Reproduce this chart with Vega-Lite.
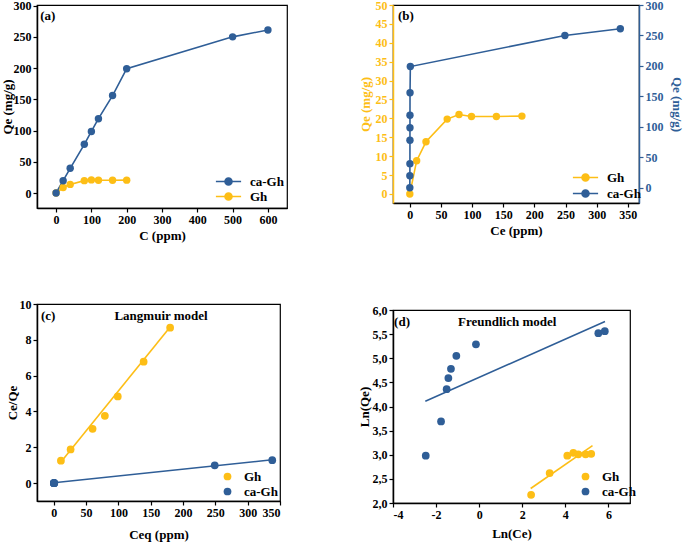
{
  "$schema": "https://vega.github.io/schema/vega-lite/v6.json",
  "background": "white",
  "padding": {"left": 0, "top": -2, "right": 0, "bottom": 0},
  "config": {
    "font": "Liberation Serif",
    "view": {"stroke": "black", "strokeWidth": 1.2},
    "axis": {"labelFont": "Liberation Serif", "labelFontSize": 12, "labelFontWeight": "bold", "labelColor": "black", "titleFont": "Liberation Serif", "titleFontSize": 13, "titleFontWeight": "bold", "titleColor": "black", "domainColor": "black", "domainWidth": 1.5, "tickColor": "black", "tickWidth": 1.2, "tickSize": 4, "grid": false, "labelPadding": 2, "labelOverlap": false},
    "legend": {"labelFont": "Liberation Serif", "labelFontSize": 13, "labelFontWeight": "bold", "labelColor": "black", "orient": "none", "title": null},
    "text": {"font": "Liberation Serif", "fontWeight": "bold", "fontSize": 13, "baseline": "middle"}
  },
  "spacing": 69,
  "resolve": {"scale": {"x": "independent", "y": "independent", "fill": "independent", "stroke": "independent"}, "legend": {"fill": "independent", "stroke": "independent"}},
  "hconcat": [
    {
      "spacing": 54,
      "resolve": {"scale": {"x": "independent", "y": "independent", "fill": "independent", "stroke": "independent"}, "legend": {"fill": "independent", "stroke": "independent"}},
      "vconcat": [
        {
          "width": 250, "height": 203,
          "resolve": {"scale": {"x": "independent", "y": "independent"}, "axis": {"x": "independent", "y": "independent"}},
          "layer": [
            {
              "data": {"values": [
                {"series": "Gh", "C": 0, "Qe": 0}, {"series": "Gh", "C": 20, "Qe": 8.8}, {"series": "Gh", "C": 40, "Qe": 13.8}, {"series": "Gh", "C": 80, "Qe": 19.8}, {"series": "Gh", "C": 100, "Qe": 21}, {"series": "Gh", "C": 120, "Qe": 20.5}, {"series": "Gh", "C": 160, "Qe": 20.5}, {"series": "Gh", "C": 200, "Qe": 20.6},
                {"series": "ca-Gh", "C": 0, "Qe": 0}, {"series": "ca-Gh", "C": 20, "Qe": 19.7}, {"series": "ca-Gh", "C": 40, "Qe": 39.6}, {"series": "ca-Gh", "C": 80, "Qe": 78}, {"series": "ca-Gh", "C": 100, "Qe": 98.5}, {"series": "ca-Gh", "C": 120, "Qe": 119}, {"series": "ca-Gh", "C": 160, "Qe": 156}, {"series": "ca-Gh", "C": 200, "Qe": 199}, {"series": "ca-Gh", "C": 500, "Qe": 250}, {"series": "ca-Gh", "C": 600, "Qe": 261}
              ]},
              "encoding": {
                "x": {"field": "C", "type": "quantitative", "scale": {"domain": [-54, 654], "nice": false, "zero": false}, "axis": {"orient": "bottom", "values": [0, 100, 200, 300, 400, 500, 600], "labelOverlap": false, "title": "C (ppm)", "titlePadding": 4}},
                "y": {"field": "Qe", "type": "quantitative", "scale": {"domain": [-24, 301], "nice": false, "zero": false}, "axis": {"orient": "left", "values": [0, 50, 100, 150, 200, 250, 300], "labelOverlap": false, "title": "Qe (mg/g)", "titlePadding": -1}}
              },
              "layer": [
                {"mark": {"type": "line", "strokeWidth": 1.6}, "encoding": {"stroke": {"field": "series", "type": "nominal", "scale": {"domain": ["ca-Gh", "Gh"], "range": ["#2F5E97", "#FDBE16"]}}}},
                {"mark": {"type": "point", "filled": true, "size": 55, "opacity": 1, "shape": "circle", "strokeWidth": 0}, "encoding": {
                  "fill": {"field": "series", "type": "nominal", "scale": {"domain": ["ca-Gh", "Gh"], "range": ["#2F5E97", "#FDBE16"]}, "legend": {"symbolType": "M-3.6,0L3.6,0M-1,0A1,1,0,1,1,1,0A1,1,0,1,1,-1,0Z", "symbolSize": 49, "symbolStrokeWidth": 1.6, "labelOffset": 15, "rowPadding": 0, "legendX": 185, "legendY": 170}},
                  "stroke": {"field": "series", "type": "nominal", "scale": {"domain": ["ca-Gh", "Gh"], "range": ["#2F5E97", "#FDBE16"]}, "legend": {"symbolType": "M-3.6,0L3.6,0M-1,0A1,1,0,1,1,1,0A1,1,0,1,1,-1,0Z", "symbolSize": 49, "symbolStrokeWidth": 1.6, "labelOffset": 15, "rowPadding": 0, "legendX": 185, "legendY": 170}}
                }}
              ]
            },
            {
              "data": {"values": [{"label": "(a)"}]},
              "mark": {"type": "text", "align": "left"},
              "encoding": {"text": {"field": "label"}, "x": {"datum": -45, "type": "quantitative", "scale": {"domain": [-54, 654], "nice": false, "zero": false}, "axis": null}, "y": {"datum": 284, "type": "quantitative", "scale": {"domain": [-24, 301], "nice": false, "zero": false}, "axis": null}}
            }
          ]
        },
        {
          "width": 243, "height": 197,
          "resolve": {"scale": {"x": "independent", "y": "independent"}, "axis": {"x": "independent", "y": "independent"}},
          "layer": [
            {
              "encoding": {
                "x": {"field": "Ce", "type": "quantitative", "scale": {"domain": [-26, 350], "nice": false, "zero": false}, "axis": {"orient": "bottom", "values": [0, 50, 100, 150, 200, 250, 300, 350], "labelOverlap": false, "title": "Ceq (ppm)", "titlePadding": 10}},
                "y": {"field": "R", "type": "quantitative", "scale": {"domain": [-1, 10], "nice": false, "zero": false}, "axis": {"orient": "left", "values": [0, 2, 4, 6, 8, 10], "labelOverlap": false, "title": "Ce/Qe", "titlePadding": 0}}
              },
              "layer": [
                {
                  "data": {"values": [
                    {"series": "Gh", "Ce": 11, "R": 1.18}, {"series": "Gh", "Ce": 180, "R": 8.71},
                    {"series": "ca-Gh", "Ce": 0, "R": 0.02}, {"series": "ca-Gh", "Ce": 338, "R": 1.3}
                  ]},
                  "mark": {"type": "line", "strokeWidth": 1.6},
                  "encoding": {
                    "stroke": {"field": "series", "type": "nominal", "scale": {"domain": ["Gh", "ca-Gh"], "range": ["#FDBE16", "#2F5E97"]}, "legend": {"symbolType": "circle", "symbolSize": 60, "symbolStrokeWidth": 0, "labelOffset": 10, "rowPadding": 1, "legendX": 184, "legendY": 166}}
                  }
                },
                {
                  "data": {"values": [
                    {"series": "Gh", "Ce": 11, "R": 1.25}, {"series": "Gh", "Ce": 26, "R": 1.88}, {"series": "Gh", "Ce": 60, "R": 3.03}, {"series": "Gh", "Ce": 79, "R": 3.76}, {"series": "Gh", "Ce": 99, "R": 4.84}, {"series": "Gh", "Ce": 139, "R": 6.78}, {"series": "Gh", "Ce": 180, "R": 8.68},
                    {"series": "ca-Gh", "Ce": 0.09, "R": 0.005}, {"series": "ca-Gh", "Ce": 0.17, "R": 0.004}, {"series": "ca-Gh", "Ce": 0.22, "R": 0.003}, {"series": "ca-Gh", "Ce": 0.24, "R": 0.002}, {"series": "ca-Gh", "Ce": 0.27, "R": 0.002}, {"series": "ca-Gh", "Ce": 0.35, "R": 0.002}, {"series": "ca-Gh", "Ce": 0.86, "R": 0.004}, {"series": "ca-Gh", "Ce": 249, "R": 0.99}, {"series": "ca-Gh", "Ce": 338, "R": 1.28}
                  ]},
                  "mark": {"type": "circle", "size": 60, "opacity": 1},
                  "encoding": {
                    "fill": {"field": "series", "type": "nominal", "scale": {"domain": ["Gh", "ca-Gh"], "range": ["#FDBE16", "#2F5E97"]}, "legend": {"symbolType": "circle", "symbolSize": 60, "symbolStrokeWidth": 0, "labelOffset": 10, "rowPadding": 1, "legendX": 184, "legendY": 166}}
                  }
                }
              ]
            },
            {
              "data": {"values": [{"label": "(c)", "pos": -20}, {"label": "Langmuir model", "pos": 166}]},
              "mark": {"type": "text", "align": "left"},
              "encoding": {
                "text": {"field": "label"},
                "x": {"datum": -20, "type": "quantitative", "scale": {"domain": [-26, 350], "nice": false, "zero": false}, "axis": null},
                "y": {"datum": 9.33, "type": "quantitative", "scale": {"domain": [-1, 10], "nice": false, "zero": false}, "axis": null}
              },
              "transform": [{"filter": "datum.label == '(c)'"}]
            },
            {
              "data": {"values": [{"label": "Langmuir model"}]},
              "mark": {"type": "text", "align": "center"},
              "encoding": {
                "text": {"field": "label"},
                "x": {"datum": 166, "type": "quantitative", "scale": {"domain": [-26, 350], "nice": false, "zero": false}, "axis": null},
                "y": {"datum": 9.33, "type": "quantitative", "scale": {"domain": [-1, 10], "nice": false, "zero": false}, "axis": null}
              }
            }
          ]
        }
      ]
    },
    {
      "spacing": 65,
      "resolve": {"scale": {"x": "independent", "y": "independent", "fill": "independent", "stroke": "independent"}, "legend": {"fill": "independent", "stroke": "independent"}},
      "vconcat": [
        {
          "width": 246, "height": 198,
          "resolve": {"scale": {"x": "independent", "y": "independent"}, "axis": {"x": "independent", "y": "independent"}},
          "layer": [
            {
              "data": {"values": [
                {"series": "Gh", "Ce": 0, "Qe": 0}, {"series": "Gh", "Ce": 11, "Qe": 8.8}, {"series": "Gh", "Ce": 26, "Qe": 13.8}, {"series": "Gh", "Ce": 60, "Qe": 19.8}, {"series": "Gh", "Ce": 79, "Qe": 21}, {"series": "Gh", "Ce": 99, "Qe": 20.5}, {"series": "Gh", "Ce": 139, "Qe": 20.5}, {"series": "Gh", "Ce": 180, "Qe": 20.6}
              ]},
              "encoding": {
                "x": {"field": "Ce", "type": "quantitative", "scale": {"domain": [-27, 368], "nice": false, "zero": false}, "axis": {"orient": "bottom", "values": [0, 50, 100, 150, 200, 250, 300, 350], "labelOverlap": false, "title": "Ce (ppm)", "titlePadding": 4}},
                "y": {"field": "Qe", "type": "quantitative", "scale": {"domain": [-2.4, 50], "nice": false, "zero": false}, "axis": {"orient": "left", "values": [0, 5, 10, 15, 20, 25, 30, 35, 40, 45, 50], "labelOverlap": false, "title": "Qe (mg/g)", "titlePadding": 3, "labelColor": "#FDBE16", "titleColor": "#FDBE16", "domainColor": "#FDBE16", "tickColor": "#FDBE16"}}
              },
              "layer": [
                {"mark": {"type": "line", "strokeWidth": 1.6}, "encoding": {"stroke": {"field": "series", "type": "nominal", "scale": {"domain": ["Gh", "ca-Gh"], "range": ["#FDBE16", "#2F5E97"]}}}},
                {"mark": {"type": "point", "filled": true, "size": 55, "opacity": 1, "shape": "circle", "strokeWidth": 0}, "encoding": {
                  "fill": {"field": "series", "type": "nominal", "scale": {"domain": ["Gh", "ca-Gh"], "range": ["#FDBE16", "#2F5E97"]}, "legend": {"symbolType": "M-3.6,0L3.6,0M-1,0A1,1,0,1,1,1,0A1,1,0,1,1,-1,0Z", "symbolSize": 49, "symbolStrokeWidth": 1.6, "labelOffset": 15, "rowPadding": 1, "legendX": 186, "legendY": 166}},
                  "stroke": {"field": "series", "type": "nominal", "scale": {"domain": ["Gh", "ca-Gh"], "range": ["#FDBE16", "#2F5E97"]}, "legend": {"symbolType": "M-3.6,0L3.6,0M-1,0A1,1,0,1,1,1,0A1,1,0,1,1,-1,0Z", "symbolSize": 49, "symbolStrokeWidth": 1.6, "labelOffset": 15, "rowPadding": 1, "legendX": 186, "legendY": 166}}
                }}
              ]
            },
            {
              "data": {"values": [
                {"series": "ca-Gh", "Ce": 0, "Qe": 0}, {"series": "ca-Gh", "Ce": 0.09, "Qe": 19.7}, {"series": "ca-Gh", "Ce": 0.17, "Qe": 39.6}, {"series": "ca-Gh", "Ce": 0.22, "Qe": 78}, {"series": "ca-Gh", "Ce": 0.24, "Qe": 98.5}, {"series": "ca-Gh", "Ce": 0.27, "Qe": 119}, {"series": "ca-Gh", "Ce": 0.35, "Qe": 156}, {"series": "ca-Gh", "Ce": 0.86, "Qe": 199}, {"series": "ca-Gh", "Ce": 249, "Qe": 250}, {"series": "ca-Gh", "Ce": 338, "Qe": 261}
              ]},
              "encoding": {
                "x": {"field": "Ce", "type": "quantitative", "scale": {"domain": [-27, 368], "nice": false, "zero": false}, "axis": null},
                "y": {"field": "Qe", "type": "quantitative", "scale": {"domain": [-25, 300], "nice": false, "zero": false}, "axis": {"orient": "right", "values": [0, 50, 100, 150, 200, 250, 300], "labelOverlap": false, "title": "Qe (mg/g)", "titlePadding": 6, "labelColor": "#2F5E97", "titleColor": "#2F5E97", "domainColor": "#2F5E97", "tickColor": "#2F5E97"}}
              },
              "layer": [
                {"mark": {"type": "line", "strokeWidth": 1.6}, "encoding": {"stroke": {"field": "series", "type": "nominal", "scale": {"domain": ["Gh", "ca-Gh"], "range": ["#FDBE16", "#2F5E97"]}}}},
                {"mark": {"type": "point", "filled": true, "size": 55, "opacity": 1, "shape": "circle", "strokeWidth": 0}, "encoding": {
                  "fill": {"field": "series", "type": "nominal", "scale": {"domain": ["Gh", "ca-Gh"], "range": ["#FDBE16", "#2F5E97"]}},
                  "stroke": {"field": "series", "type": "nominal", "scale": {"domain": ["Gh", "ca-Gh"], "range": ["#FDBE16", "#2F5E97"]}}
                }}
              ]
            },
            {
              "data": {"values": [{"label": "(b)"}]},
              "mark": {"type": "text", "align": "left"},
              "encoding": {"text": {"field": "label"}, "x": {"datum": -19, "type": "quantitative", "scale": {"domain": [-27, 368], "nice": false, "zero": false}, "axis": null}, "y": {"datum": 47.1, "type": "quantitative", "scale": {"domain": [-2.4, 50], "nice": false, "zero": false}, "axis": null}}
            }
          ]
        },
        {
          "width": 237, "height": 193,
          "resolve": {"scale": {"x": "independent", "y": "independent"}, "axis": {"x": "independent", "y": "independent"}},
          "layer": [
            {
              "encoding": {
                "x": {"field": "lnCe", "type": "quantitative", "scale": {"domain": [-4, 7], "nice": false, "zero": false}, "axis": {"orient": "bottom", "values": [-4, -2, 0, 2, 4, 6], "labelOverlap": false, "labelExpr": "'' + datum.value", "title": "Ln(Ce)", "titlePadding": 7}},
                "y": {"field": "lnQe", "type": "quantitative", "scale": {"domain": [2, 6], "nice": false, "zero": false}, "axis": {"orient": "left", "values": [2, 2.5, 3, 3.5, 4, 4.5, 5, 5.5, 6], "labelOverlap": false, "labelExpr": "replace(format(datum.value, '.1f'), '.', ',')", "title": "Ln(Qe)", "titlePadding": 1}}
              },
              "layer": [
                {
                  "data": {"values": [
                    {"series": "Gh", "lnCe": 2.39, "lnQe": 2.30}, {"series": "Gh", "lnCe": 5.26, "lnQe": 3.19},
                    {"series": "ca-Gh", "lnCe": -2.5, "lnQe": 4.11}, {"series": "ca-Gh", "lnCe": 5.84, "lnQe": 5.76}
                  ]},
                  "mark": {"type": "line", "strokeWidth": 1.6},
                  "encoding": {
                    "stroke": {"field": "series", "type": "nominal", "scale": {"domain": ["Gh", "ca-Gh"], "range": ["#FDBE16", "#2F5E97"]}, "legend": {"symbolType": "circle", "symbolSize": 60, "symbolStrokeWidth": 0, "labelOffset": 10, "rowPadding": 1, "legendX": 186, "legendY": 160}}
                  }
                },
                {
                  "data": {"values": [
                    {"series": "Gh", "lnCe": 2.41, "lnQe": 2.17}, {"series": "Gh", "lnCe": 3.27, "lnQe": 2.62}, {"series": "Gh", "lnCe": 4.09, "lnQe": 2.98}, {"series": "Gh", "lnCe": 4.37, "lnQe": 3.04}, {"series": "Gh", "lnCe": 4.6, "lnQe": 3.01}, {"series": "Gh", "lnCe": 4.94, "lnQe": 3.01}, {"series": "Gh", "lnCe": 5.2, "lnQe": 3.02},
                    {"series": "ca-Gh", "lnCe": -2.48, "lnQe": 2.98}, {"series": "ca-Gh", "lnCe": -1.77, "lnQe": 3.69}, {"series": "ca-Gh", "lnCe": -1.51, "lnQe": 4.36}, {"series": "ca-Gh", "lnCe": -1.43, "lnQe": 4.59}, {"series": "ca-Gh", "lnCe": -1.31, "lnQe": 4.78}, {"series": "ca-Gh", "lnCe": -1.06, "lnQe": 5.05}, {"series": "ca-Gh", "lnCe": -0.15, "lnQe": 5.29}, {"series": "ca-Gh", "lnCe": 5.53, "lnQe": 5.52}, {"series": "ca-Gh", "lnCe": 5.83, "lnQe": 5.56}
                  ]},
                  "mark": {"type": "circle", "size": 60, "opacity": 1},
                  "encoding": {
                    "fill": {"field": "series", "type": "nominal", "scale": {"domain": ["Gh", "ca-Gh"], "range": ["#FDBE16", "#2F5E97"]}, "legend": {"symbolType": "circle", "symbolSize": 60, "symbolStrokeWidth": 0, "labelOffset": 10, "rowPadding": 1, "legendX": 186, "legendY": 160}}
                  }
                }
              ]
            },
            {
              "data": {"values": [{"label": "(d)"}]},
              "mark": {"type": "text", "align": "left"},
              "encoding": {"text": {"field": "label"}, "x": {"datum": -3.95, "type": "quantitative", "scale": {"domain": [-4, 7], "nice": false, "zero": false}, "axis": null}, "y": {"datum": 5.76, "type": "quantitative", "scale": {"domain": [2, 6], "nice": false, "zero": false}, "axis": null}}
            },
            {
              "data": {"values": [{"label": "Freundlich model"}]},
              "mark": {"type": "text", "align": "center"},
              "encoding": {"text": {"field": "label"}, "x": {"datum": 1.3, "type": "quantitative", "scale": {"domain": [-4, 7], "nice": false, "zero": false}, "axis": null}, "y": {"datum": 5.76, "type": "quantitative", "scale": {"domain": [2, 6], "nice": false, "zero": false}, "axis": null}}
            }
          ]
        }
      ]
    }
  ]
}
